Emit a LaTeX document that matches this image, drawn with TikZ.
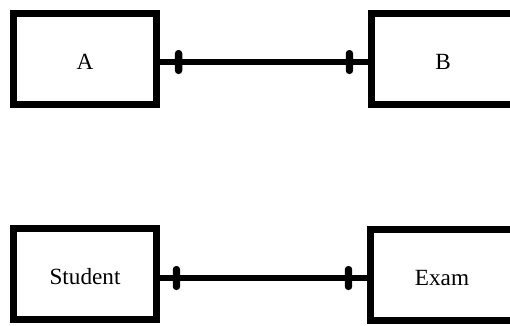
\documentclass[tikz,border=0pt]{standalone}
\usepackage{fontspec}
\setmainfont{Liberation Serif}
\usetikzlibrary{positioning}
\tikzset{
  every picture/.style={line width=4.5pt},
  entity/.style={draw=black, line width=5pt, minimum width=107.25pt, minimum height=68.25pt, inner sep=0pt, text height=16pt, text depth=0pt, font=\fontsize{17.4pt}{20pt}\selectfont},
  link/.style={draw=black, line width=4.5pt},
  tick/.style={fill=black, draw=none, rounded corners=2.5pt, minimum width=5.5pt, minimum height=18pt, inner sep=0pt},
}

\begin{document}
\begin{tikzpicture}[x=0.75pt, y=-0.75pt]
  \useasboundingbox (0,0) rectangle (510,325);
  \clip (0,0) rectangle (510,325);

  % A -- B
  \node[entity] (a) at (85,59) {A};
  \node[entity] (b) at (443,59) {B};
  \draw[link] ([yshift=-2.25pt]a.east) -- ([yshift=-2.25pt]b.west)
    node[tick, pos=0.09] {} node[tick, pos=0.91] {};

  % Student -- Exam
  \node[entity] (student) at (85,274) {Student};
  \node[entity] (exam) at (442,275) {Exam};
  \draw[link] ([yshift=-3pt]student.east) -- ([yshift=-2.25pt]exam.west)
    node[tick, pos=0.08] {} node[tick, pos=0.91] {};
\end{tikzpicture}
\end{document}
